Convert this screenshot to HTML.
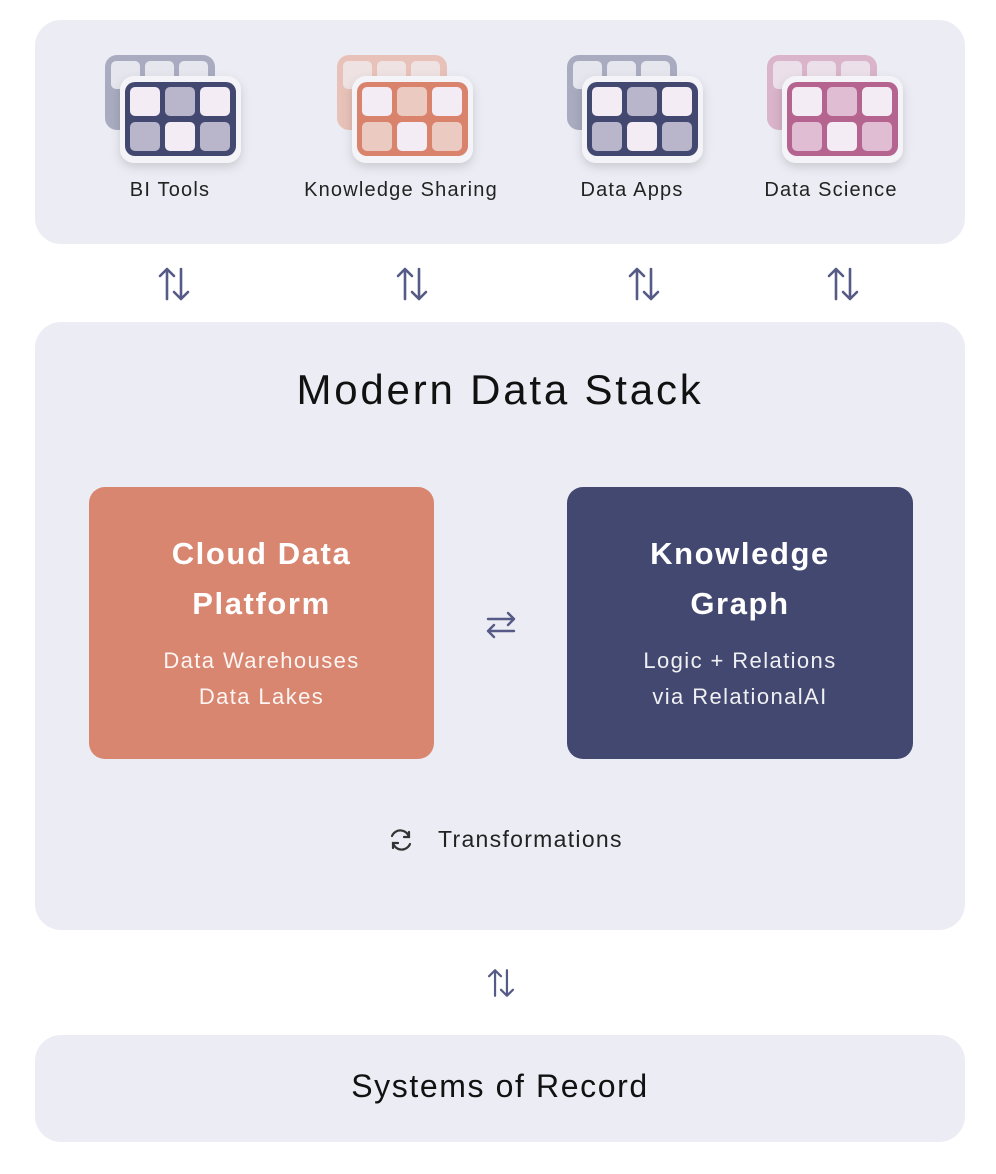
<!DOCTYPE html>
<html><head><meta charset="utf-8"><style>
*{margin:0;padding:0;box-sizing:border-box}
body{width:996px;height:1174px;background:#fff;position:relative;font-family:"Liberation Sans",sans-serif;color:#1a1a22;overflow:hidden}
.panel{position:absolute;background:#ECECF4;border-radius:26px}
.lbl{position:absolute;font-size:20px;letter-spacing:1.2px;text-align:center;width:300px;color:#222}
.box{position:absolute;border-radius:16px;color:#fff;text-align:center}
.box h2{font-size:31px;letter-spacing:1.6px;font-weight:bold;line-height:50px;margin-top:42px}
.box p{font-size:22px;letter-spacing:1.4px;line-height:36px;margin-top:14px;opacity:.92}
</style></head><body>
<div class="panel" style="left:35px;top:20px;width:930px;height:224px"></div>
<div class="panel" style="left:35px;top:322px;width:930px;height:608px"></div>
<div class="panel" style="left:35px;top:1035px;width:930px;height:107px"></div>

<svg width="996" height="1174" style="position:absolute;left:0;top:0">
<defs>
<filter id="sh" x="-20%" y="-20%" width="140%" height="150%"><feDropShadow dx="0" dy="4" stdDeviation="5" flood-color="#000" flood-opacity="0.15"/></filter>
<g id="arr" stroke="#555A86" stroke-width="2.6" fill="none" stroke-linecap="round" stroke-linejoin="round">
<path d="M-7 -15 V15 M-14 -8 L-7 -15 L0 -8"/><path d="M7 15 V-15 M0 8 L7 15 L14 8"/></g>
</defs>
<g transform="translate(170,0)">
<rect x="-65" y="55" width="110" height="75" rx="12" fill="#A9ABC0"/>
<g fill="#E6E6EE"><rect x="-59" y="61" width="29" height="28" rx="5"/><rect x="-25" y="61" width="29" height="28" rx="5"/><rect x="9" y="61" width="29" height="28" rx="5"/></g>
<rect x="-50" y="76" width="121" height="87" rx="14" fill="#F3F3F8" filter="url(#sh)"/>
<rect x="-45" y="82" width="111" height="74" rx="10" fill="#434870"/>
<g fill="#F4ECF4"><rect x="-40" y="87" width="30" height="29" rx="5"/><rect x="30" y="87" width="30" height="29" rx="5"/><rect x="-5" y="122" width="30" height="29" rx="5"/></g>
<g fill="#B9B5CB"><rect x="-5" y="87" width="30" height="29" rx="5"/><rect x="-40" y="122" width="30" height="29" rx="5"/><rect x="30" y="122" width="30" height="29" rx="5"/></g>
</g>
<g transform="translate(402,0)">
<rect x="-65" y="55" width="110" height="75" rx="12" fill="#E8C2B8"/>
<g fill="#EFE2E2"><rect x="-59" y="61" width="29" height="28" rx="5"/><rect x="-25" y="61" width="29" height="28" rx="5"/><rect x="9" y="61" width="29" height="28" rx="5"/></g>
<rect x="-50" y="76" width="121" height="87" rx="14" fill="#F3F3F8" filter="url(#sh)"/>
<rect x="-45" y="82" width="111" height="74" rx="10" fill="#D9826C"/>
<g fill="#F4ECF4"><rect x="-40" y="87" width="30" height="29" rx="5"/><rect x="30" y="87" width="30" height="29" rx="5"/><rect x="-5" y="122" width="30" height="29" rx="5"/></g>
<g fill="#EBCAC2"><rect x="-5" y="87" width="30" height="29" rx="5"/><rect x="-40" y="122" width="30" height="29" rx="5"/><rect x="30" y="122" width="30" height="29" rx="5"/></g>
</g>
<g transform="translate(632,0)">
<rect x="-65" y="55" width="110" height="75" rx="12" fill="#A9ABC0"/>
<g fill="#E6E6EE"><rect x="-59" y="61" width="29" height="28" rx="5"/><rect x="-25" y="61" width="29" height="28" rx="5"/><rect x="9" y="61" width="29" height="28" rx="5"/></g>
<rect x="-50" y="76" width="121" height="87" rx="14" fill="#F3F3F8" filter="url(#sh)"/>
<rect x="-45" y="82" width="111" height="74" rx="10" fill="#434870"/>
<g fill="#F4ECF4"><rect x="-40" y="87" width="30" height="29" rx="5"/><rect x="30" y="87" width="30" height="29" rx="5"/><rect x="-5" y="122" width="30" height="29" rx="5"/></g>
<g fill="#B9B5CB"><rect x="-5" y="87" width="30" height="29" rx="5"/><rect x="-40" y="122" width="30" height="29" rx="5"/><rect x="30" y="122" width="30" height="29" rx="5"/></g>
</g>
<g transform="translate(832,0)">
<rect x="-65" y="55" width="110" height="75" rx="12" fill="#D9B4CA"/>
<g fill="#EBE0E9"><rect x="-59" y="61" width="29" height="28" rx="5"/><rect x="-25" y="61" width="29" height="28" rx="5"/><rect x="9" y="61" width="29" height="28" rx="5"/></g>
<rect x="-50" y="76" width="121" height="87" rx="14" fill="#F3F3F8" filter="url(#sh)"/>
<rect x="-45" y="82" width="111" height="74" rx="10" fill="#B5648F"/>
<g fill="#F4ECF4"><rect x="-40" y="87" width="30" height="29" rx="5"/><rect x="30" y="87" width="30" height="29" rx="5"/><rect x="-5" y="122" width="30" height="29" rx="5"/></g>
<g fill="#E0BDD2"><rect x="-5" y="87" width="30" height="29" rx="5"/><rect x="-40" y="122" width="30" height="29" rx="5"/><rect x="30" y="122" width="30" height="29" rx="5"/></g>
</g>
<use href="#arr" x="174" y="284"/>
<use href="#arr" x="412" y="284"/>
<use href="#arr" x="644" y="284"/>
<use href="#arr" x="843" y="284"/>
<g transform="translate(501,983) scale(0.85)"><use href="#arr"/></g>
<g stroke="#555A86" stroke-width="2.4" fill="none" stroke-linecap="round" stroke-linejoin="round">
<path d="M488 619 H514 M508 613 L514 619 L508 625"/><path d="M514 631 H488 M494 625 L488 631 L494 637"/>
</g>
<g stroke="#333" stroke-width="2.2" fill="none" stroke-linecap="round">
<path d="M392 836 A9 9 0 0 1 409 837"/><path d="M410 844 A9 9 0 0 1 393 843"/>
<path d="M409 832 V837 H404"/><path d="M393 848 V843 H398"/>
</g>
</svg>

<div class="lbl" style="left:20px;top:179px">BI Tools</div>
<div class="lbl" style="left:251px;top:179px">Knowledge Sharing</div>
<div class="lbl" style="left:482px;top:179px">Data Apps</div>
<div class="lbl" style="left:681px;top:179px">Data Science</div>

<div style="position:absolute;left:0;width:1000px;top:366px;text-align:center;font-size:42px;letter-spacing:2.8px;color:#111">Modern Data Stack</div>

<div class="box" style="left:89px;top:487px;width:345px;height:272px;background:#D98670">
<h2>Cloud Data<br>Platform</h2><p>Data Warehouses<br>Data Lakes</p></div>
<div class="box" style="left:567px;top:487px;width:346px;height:272px;background:#434870">
<h2>Knowledge<br>Graph</h2><p>Logic + Relations<br>via RelationalAI</p></div>

<div style="position:absolute;left:438px;top:826px;font-size:23px;letter-spacing:1.3px;color:#222">Transformations</div>
<div style="position:absolute;left:0;width:1000px;top:1068px;text-align:center;font-size:32px;letter-spacing:1.6px;color:#111">Systems of Record</div>
</body></html>
